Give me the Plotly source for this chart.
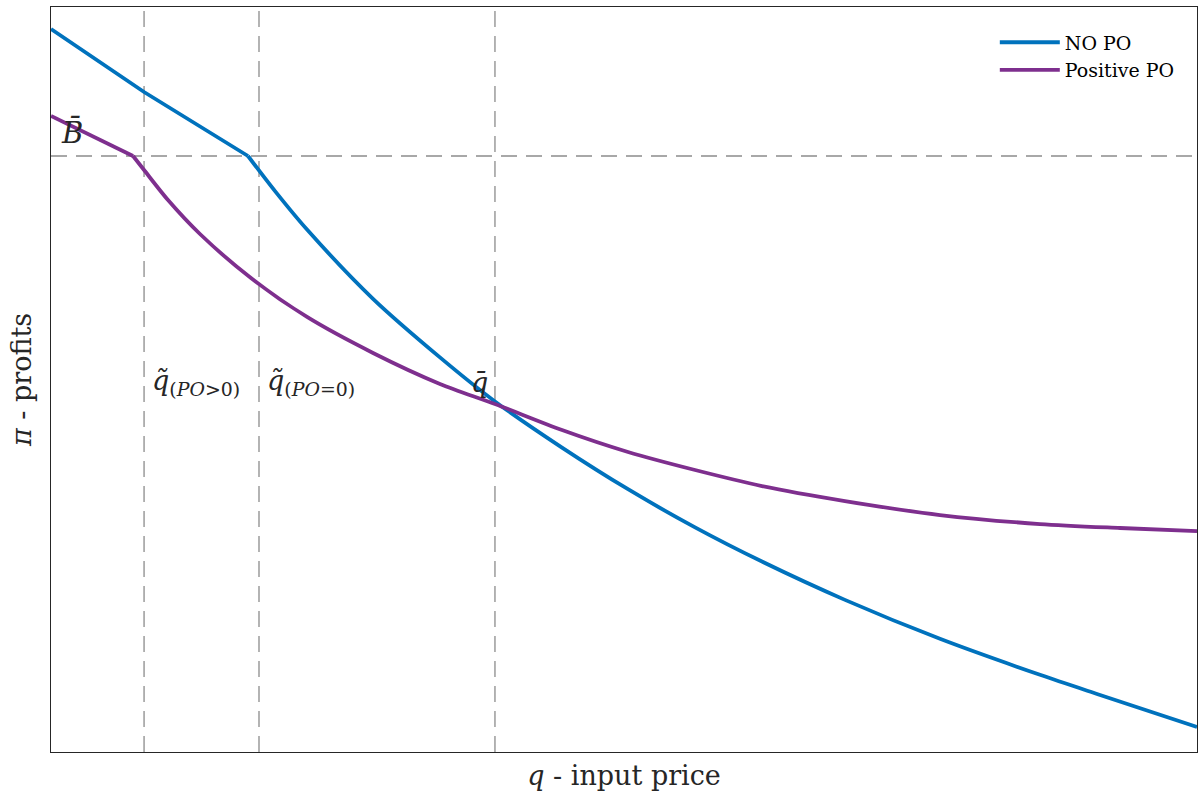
import plotly.graph_objects as go

# ---- data (normalised q and profit units) ----
q_nopo = [0, 0.0812, 0.1719, 0.1955, 0.2234, 0.2810, 0.3394, 0.3874, 0.4459,
          0.5035, 0.5620, 0.6204, 0.6928, 0.7757, 0.8630, 0.9154, 1.0]
pi_nopo = [0.9705, 0.8859, 0.8000, 0.7529, 0.7013, 0.6083, 0.5297, 0.4706, 0.4086,
           0.3527, 0.3015, 0.2556, 0.2042, 0.1519, 0.1036, 0.0766, 0.0336]
kink_nopo = 2  # index of the kink (profits reach B-bar)

q_pos = [0, 0.0716, 0.0812, 0.1021, 0.1300, 0.1745, 0.2234, 0.2810, 0.3394, 0.3874,
         0.4459, 0.5035, 0.5620, 0.6204, 0.6928, 0.7757, 0.8630, 0.9328, 1.0]
pi_pos = [0.8537, 0.8000, 0.7812, 0.7409, 0.6953, 0.6362, 0.5839, 0.5356, 0.4940, 0.4671,
          0.4322, 0.4027, 0.3785, 0.3570, 0.3369, 0.3181, 0.3060, 0.3007, 0.2966]
kink_pos = 1

q_tilde_pos = 0.0812   # q~(PO>0)
q_tilde_zero = 0.1815  # q~(PO=0)
q_bar = 0.3874         # q-bar
B_bar = 0.8000         # B-bar

series_names = ["NO PO", "Positive PO"]
colors = ["#0072BD", "#7E2F8E"]

FONT = "DejaVu Serif"
TXT = "#262626"

fig = go.Figure()
for name, col, qs, ps, k in [(series_names[0], colors[0], q_nopo, pi_nopo, kink_nopo),
                             (series_names[1], colors[1], q_pos, pi_pos, kink_pos)]:
    # straight part before the kink
    fig.add_trace(go.Scatter(x=qs[:k + 1], y=ps[:k + 1], mode="lines", name=name,
                             legendgroup=name, showlegend=True,
                             line=dict(color=col, width=3.8)))
    # smooth part after the kink
    fig.add_trace(go.Scatter(x=qs[k:], y=ps[k:], mode="lines", name=name,
                             legendgroup=name, showlegend=False,
                             line=dict(color=col, width=3.8, shape="spline", smoothing=0.8)))

dash_style = dict(color="#8c8c8c", width=1.3, dash="16px,9px")
for xv in [q_tilde_pos, q_tilde_zero, q_bar]:
    fig.add_shape(type="line", xref="x", yref="paper", x0=xv, x1=xv, y0=0, y1=1,
                  line=dash_style, layer="below")
fig.add_shape(type="line", xref="paper", yref="y", x0=0, x1=1, y0=B_bar, y1=B_bar,
              line=dash_style, layer="below")

ann_font = dict(family=FONT, size=27, color=TXT)
fig.add_annotation(x=0.007, y=B_bar + 0.006, text="<i>B\u0304</i>", showarrow=False,
                   xanchor="left", yanchor="bottom", font=dict(family=FONT, size=29, color=TXT))
fig.add_annotation(x=q_tilde_pos + 0.005, y=0.470, text="<i>q\u0303</i><sub>(<i>PO</i>>0)</sub>",
                   showarrow=False, xanchor="left", yanchor="bottom", font=ann_font)
fig.add_annotation(x=q_tilde_zero + 0.005, y=0.470, text="<i>q\u0303</i><sub>(<i>PO</i>=0)</sub>",
                   showarrow=False, xanchor="left", yanchor="bottom", font=ann_font)
fig.add_annotation(x=q_bar - 0.004, y=0.473, text="<i>q\u0304</i>", showarrow=False,
                   xanchor="right", yanchor="bottom", font=ann_font)

axis_common = dict(showgrid=False, zeroline=False, showticklabels=False, ticks="",
                   showline=True, mirror=True, linecolor=TXT, linewidth=1,
                   range=[0, 1])
fig.update_xaxes(**axis_common, title=dict(text="<i>q</i> - input price",
                 font=dict(family=FONT, size=27, color=TXT), standoff=14))
fig.update_yaxes(**axis_common, title=dict(text="<i>\u03c0</i> - profits",
                 font=dict(family=FONT, size=27, color=TXT), standoff=10))

fig.update_layout(
    width=1198, height=800,
    margin=dict(l=51, r=1, t=7, b=48),
    plot_bgcolor="white", paper_bgcolor="white",
    font=dict(family=FONT, color=TXT),
    legend=dict(x=0.985, y=0.978, xanchor="right", yanchor="top",
                bgcolor="rgba(255,255,255,0)", borderwidth=0,
                font=dict(family=FONT, size=19, color="#000000"),
                tracegroupgap=0, itemwidth=60),
    showlegend=True,
)

fig.write_html("out.html")
